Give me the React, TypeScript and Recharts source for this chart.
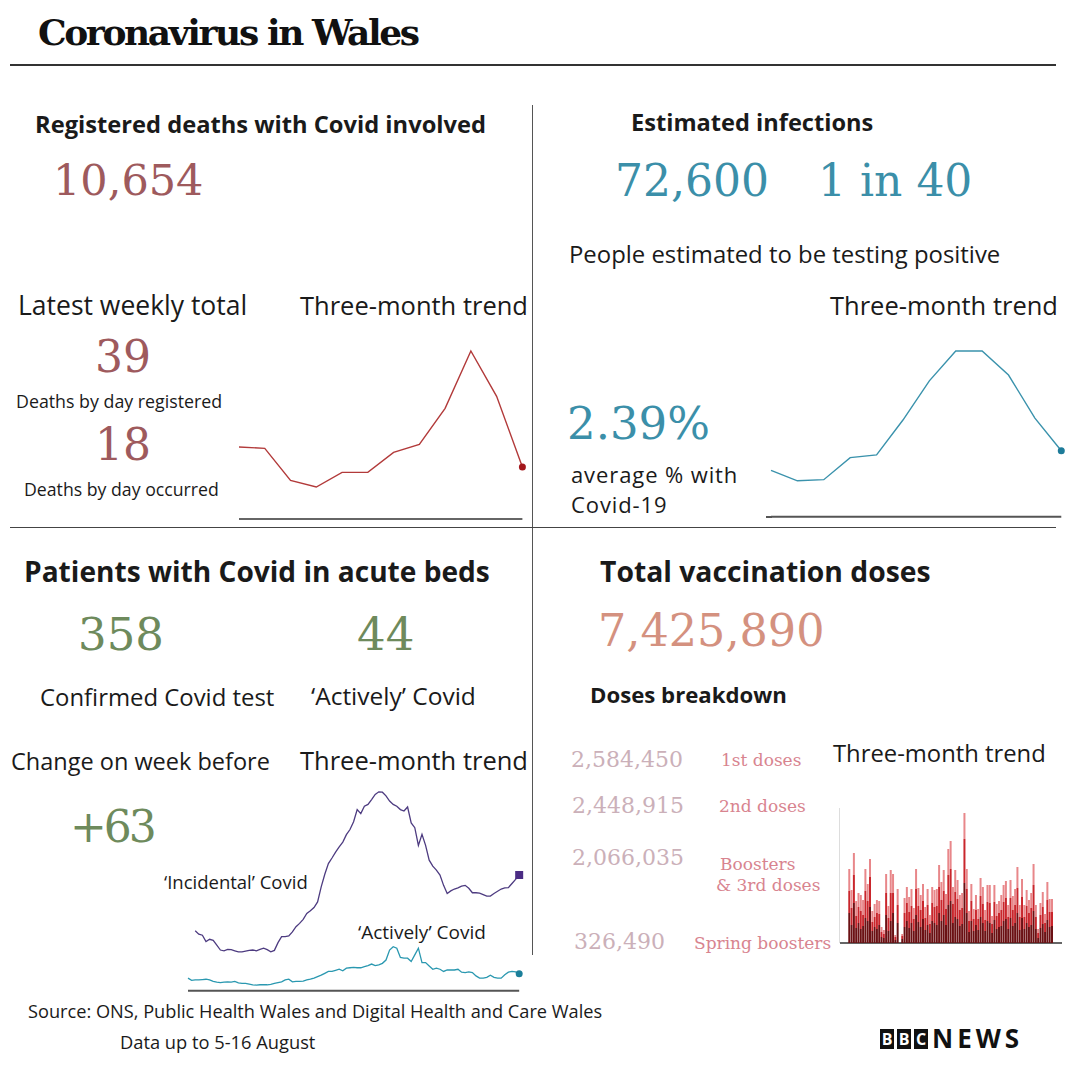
import React from 'react';
import { LineChart, Line, BarChart, Bar, XAxis, YAxis, ReferenceLine } from 'recharts';

// weekly registered deaths, last 12 weeks
const deathWeeks = ['W1', 'W2', 'W3', 'W4', 'W5', 'W6', 'W7', 'W8', 'W9', 'W10', 'W11', 'W12'];
const weeklyDeaths = [54, 53, 29, 24, 35, 35, 50, 56, 83, 126, 92, 39];

// ONS infection survey, % testing positive
const surveyWeeks = ['S1', 'S2', 'S3', 'S4', 'S5', 'S6', 'S7', 'S8', 'S9', 'S10', 'S11', 'S12'];
const positivePct = [1.68, 1.3, 1.34, 2.14, 2.24, 3.5, 4.92, 6.0, 6.0, 5.13, 3.57, 2.39];

// patients in acute beds, daily
const incidentalCovid = [
  null, null, 162, 153, 150, 133, 139, 136, 123, 110, 108, 112, 111, 108, 105, 105, 107, 109, 110, 108,
  112, 115, 111, 105, 109, 130, 146, 146, 148, 159, 173, 182, 193, 209, 216, 225, 240, 281, 315, 344,
  359, 375, 389, 402, 422, 436, 457, 490, 479, 499, 504, 517, 531, 538, 537, 527, 513, 504, 499, 490,
  486, 497, 454, 441, 393, 423, 393, 353, 337, 326, 313, 285, 263, 270, 275, 278, 283, 285, 277, 265,
  265, 264, 260, 256, 256, 263, 269, 275, 278, 279, 290, 301, 313,
];
const activelyCovid = [
  34, 28, 29, 29, 30, 31, 29, 25, 23, 22, 23, 24, 23, 25, 21, 20, 20, 18, 16, 15,
  16, 16, 16, 17, 20, 22, 24, 29, 31, 24, 25, 25, 26, 29, 31, 34, 38, 42, 47, 52,
  52, 55, 58, 54, 61, 62, 63, 62, 62, 65, 68, 72, 68, 70, 74, 83, 110, 119, 115, 90,
  88, 88, 79, 97, 115, 76, 76, 67, 58, 61, 58, 52, 56, 56, 56, 58, 50, 49, 51, 49,
  40, 34, 34, 36, 42, 36, 34, 34, 43, 50, 52, 51, 46,
];

// daily vaccination doses (hundreds), three layers
const doseDark = [
  30, 18, 40, 15, 20, 14, 17, 25, 22, 36, 12, 16, 14, 18, 6, 5, 28, 12, 22, 30,
  3, 20, 0, 4, 16, 22, 15, 20, 12, 28, 21, 16, 24, 13, 18, 10, 22, 20, 18, 30,
  22, 28, 18, 38, 42, 20, 26, 24, 17, 19, 60, 30, 11, 22, 12, 18, 13, 26, 20, 12,
  22, 20, 10, 23, 14, 16, 17, 22, 24, 14, 25, 17, 20, 30, 13, 25, 14, 20, 16, 18,
  32, 14, 5, 15, 19, 11, 23, 16, 17,
];
const doseRed = [
  22, 17, 28, 12, 16, 18, 11, 27, 20, 30, 9, 10, 16, 11, 5, 4, 22, 13, 28, 20,
  3, 18, 0, 3, 14, 18, 16, 17, 12, 26, 16, 17, 18, 12, 20, 9, 18, 16, 19, 26,
  21, 24, 16, 30, 32, 19, 25, 20, 16, 16, 44, 24, 11, 20, 12, 15, 11, 21, 19, 11,
  19, 20, 9, 18, 13, 14, 16, 19, 21, 12, 20, 16, 18, 25, 13, 21, 12, 17, 14, 17,
  26, 12, 5, 13, 17, 9, 20, 15, 14,
];
const dosePink = [
  22, 18, 22, 15, 14, 16, 15, 22, 17, 18, 11, 13, 13, 13, 5, 4, 19, 12, 23, 19,
  2, 16, 0, 2, 15, 16, 15, 17, 11, 20, 18, 15, 17, 11, 16, 9, 16, 17, 17, 22,
  18, 21, 15, 26, 28, 17, 22, 19, 15, 15, 26, 20, 10, 17, 10, 15, 10, 18, 17, 10,
  17, 18, 8, 17, 12, 12, 15, 17, 17, 12, 18, 14, 16, 21, 12, 18, 12, 16, 13, 15,
  21, 12, 4, 12, 15, 9, 18, 13, 13,
];

const deathData = deathWeeks.map((w, i) => ({ w, v: weeklyDeaths[i] }));
const surveyData = surveyWeeks.map((w, i) => ({ w, v: positivePct[i] }));
const patientData = activelyCovid.map((a, i) => ({ d: i, inc: incidentalCovid[i], act: a }));
const doseData = doseDark.map((d, i) => ({ d: i, dark: d, red: doseRed[i], pink: dosePink[i] }));

const SANS = '"Open Sans", "Noto Sans", sans-serif';
const SERIF = '"DejaVu Serif", serif';

const ROSE = '#9e5a5d';
const TEAL = '#3b8fa9';
const GREEN = '#6e8a5c';
const SALMON = '#d4917f';
const PALE = '#cbb0b9';
const PINK = '#d8848f';

type TxtProps = {
  x: number;
  base: number;
  size: number;
  serif?: boolean;
  bold?: boolean;
  color?: string;
  ls?: number;
  children: React.ReactNode;
};

function Txt({ x, base, size, serif, bold, color = '#1a1a1a', ls = 0, children }: TxtProps) {
  const asc = serif ? 0.846 : 0.888;
  return (
    <div
      style={{
        position: 'absolute',
        left: x,
        top: base - asc * size,
        fontSize: size,
        lineHeight: `${size}px`,
        fontFamily: serif ? SERIF : SANS,
        fontWeight: bold ? 700 : 400,
        color,
        letterSpacing: ls,
        whiteSpace: 'nowrap',
      }}
    >
      {children}
    </div>
  );
}

function Rule({ x, y, w, h, c }: { x: number; y: number; w: number; h: number; c: string }) {
  return <div style={{ position: 'absolute', left: x, top: y, width: w, height: h, background: c }} />;
}

const lastDot = (n: number, fill: string, square = false) => (props: any) => {
  const { cx, cy, index } = props;
  if (index !== n - 1 || cx == null || cy == null) return <g key={`d${index}`} />;
  if (square) return <rect key={`d${index}`} x={cx - 4} y={cy - 4} width={8} height={8} fill={fill} />;
  return <circle key={`d${index}`} cx={cx} cy={cy} r={3.5} fill={fill} />;
};

function BbcBox({ x, letter }: { x: number; letter: string }) {
  return (
    <div
      style={{
        position: 'absolute', left: x, top: 1029, width: 14, height: 20, background: '#111',
        color: '#fff', fontFamily: SANS, fontWeight: 700, fontSize: 16, lineHeight: '20px', textAlign: 'center',
      }}
    >
      {letter}
    </div>
  );
}

export default function App() {
  const m = 6;
  return (
    <div style={{ position: 'absolute', left: 0, top: 0, width: 1066, height: 1066, background: '#fff', overflow: 'hidden' }}>
      {/* header */}
      <Txt x={38} base={44} size={36} serif bold color="#111" ls={-2.4}>Coronavirus in Wales</Txt>
      <Rule x={10} y={64} w={1046} h={2} c="#333" />
      <Rule x={532} y={105} w={1} h={850} c="#555" />
      <Rule x={10} y={527} w={1046} h={1} c="#444" />

      {/* deaths */}
      <Txt x={35} base={134} size={23.7} bold>Registered deaths with Covid involved</Txt>
      <Txt x={53} base={195} size={43} serif color={ROSE}>10,654</Txt>
      <Txt x={18} base={316} size={26.5}>Latest weekly total</Txt>
      <Txt x={300} base={316} size={25.5}>Three-month trend</Txt>
      <Txt x={95} base={372} size={44} serif color={ROSE}>39</Txt>
      <Txt x={16} base={409} size={17.8}>Deaths by day registered</Txt>
      <Txt x={95} base={460} size={44} serif color={ROSE}>18</Txt>
      <Txt x={24} base={497} size={17.7}>Deaths by day occurred</Txt>
      <div style={{ position: 'absolute', left: 239.3 - m, top: 351 - m }}>
        <LineChart width={283.4 + 2 * m} height={168 + 2 * m} data={deathData} margin={{ top: m, right: m, bottom: m, left: m }}>
          <XAxis dataKey="w" hide />
          <YAxis hide domain={[0, 126]} />
          <ReferenceLine y={0} stroke="#333" strokeWidth={1.5} />
          <Line dataKey="v" stroke="#b23a3a" strokeWidth={1.4} dot={lastDot(weeklyDeaths.length, '#a3161b')} isAnimationActive={false} />
        </LineChart>
      </div>

      {/* infections */}
      <Txt x={631} base={132} size={23.6} bold>Estimated infections</Txt>
      <Txt x={615} base={196} size={44} serif color={TEAL}>72,600</Txt>
      <Txt x={818} base={196} size={44} serif color={TEAL}>1 in 40</Txt>
      <Txt x={569} base={263} size={23.9}>People estimated to be testing positive</Txt>
      <Txt x={830} base={316} size={25.5}>Three-month trend</Txt>
      <Txt x={567} base={439} size={45} serif color={TEAL}>2.39%</Txt>
      <div
        style={{
          position: 'absolute', left: 571, top: 458.5, fontSize: 22, lineHeight: '30px', letterSpacing: 0.9,
          fontFamily: SANS, color: '#1a1a1a', whiteSpace: 'nowrap',
        }}
      >
        average % with
        <br />
        Covid-19
      </div>
      <Rule x={766} y={515.7} w={6} h={2} c="#555" />
      <div style={{ position: 'absolute', left: 770.7 - m, top: 351 - m }}>
        <LineChart width={290.3 + m + 4} height={165.7 + 2 * m} data={surveyData} margin={{ top: m, right: 4, bottom: m, left: m }}>
          <XAxis dataKey="w" hide />
          <YAxis hide domain={[0, 6]} />
          <ReferenceLine y={0} stroke="#555" strokeWidth={2} />
          <Line dataKey="v" stroke="#3a92ac" strokeWidth={1.4} dot={lastDot(positivePct.length, '#1d7b99')} isAnimationActive={false} />
        </LineChart>
      </div>

      {/* patients */}
      <Txt x={24} base={582} size={28.1} bold>Patients with Covid in acute beds</Txt>
      <Txt x={78} base={650} size={45} serif color={GREEN}>358</Txt>
      <Txt x={357} base={650} size={45} serif color={GREEN}>44</Txt>
      <Txt x={40} base={706} size={23.9}>Confirmed Covid test</Txt>
      <Txt x={311} base={706} size={24.5}>‘Actively’ Covid</Txt>
      <Txt x={11} base={771} size={23.5}>Change on week before</Txt>
      <Txt x={300} base={771} size={25.5}>Three-month trend</Txt>
      <Txt x={70} base={842} size={44} serif color={GREEN} ls={-3}>+63</Txt>
      <Txt x={164} base={889} size={18.5}>‘Incidental’ Covid</Txt>
      <Txt x={358} base={940} size={19}>‘Actively’ Covid</Txt>
      <div style={{ position: 'absolute', left: 188.3 - m, top: 780 - m }}>
        <LineChart width={331.2 + 2 * m} height={210.7 + 2 * m} data={patientData} margin={{ top: m, right: m, bottom: m, left: m }}>
          <XAxis dataKey="d" hide />
          <YAxis hide domain={[0, 570]} />
          <ReferenceLine y={0} stroke="#555" strokeWidth={2} />
          <Line dataKey="inc" stroke="#4d3b80" strokeWidth={1.3} connectNulls={false} dot={lastDot(patientData.length, '#4b2c84', true)} isAnimationActive={false} />
          <Line dataKey="act" stroke="#2a98b0" strokeWidth={1.3} dot={lastDot(patientData.length, '#1b7f9a')} isAnimationActive={false} />
        </LineChart>
      </div>

      {/* vaccinations */}
      <Txt x={600} base={582} size={28.3} bold>Total vaccination doses</Txt>
      <Txt x={598} base={647} size={44.5} serif color={SALMON}>7,425,890</Txt>
      <Txt x={590} base={704} size={22.2} bold>Doses breakdown</Txt>
      <Txt x={571} base={768} size={22} serif color={PALE}>2,584,450</Txt>
      <Txt x={721} base={766} size={17} serif color={PINK}>1st doses</Txt>
      <Txt x={833} base={763} size={23.8}>Three-month trend</Txt>
      <Txt x={572} base={814} size={22} serif color={PALE}>2,448,915</Txt>
      <Txt x={719} base={812} size={17} serif color={PINK}>2nd doses</Txt>
      <Txt x={572} base={866} size={22} serif color={PALE}>2,066,035</Txt>
      <Txt x={720} base={870} size={17} serif color={PINK}>Boosters</Txt>
      <Txt x={716} base={891} size={17} serif color={PINK}>&amp; 3rd doses</Txt>
      <Txt x={574} base={950} size={22} serif color={PALE}>326,490</Txt>
      <Txt x={694} base={949} size={17} serif color={PINK}>Spring boosters</Txt>
      <Rule x={839} y={808} w={1} h={135} c="#ddd" />
      <Rule x={840} y={942} w={222} h={1.5} c="#666" />
      <div style={{ position: 'absolute', left: 848, top: 812 }}>
        <BarChart width={205} height={131} data={doseData} margin={{ top: 0, right: 0, bottom: 0, left: 0 }} barCategoryGap="12%">
          <XAxis dataKey="d" hide />
          <YAxis hide domain={[0, 131]} />
          <Bar dataKey="dark" stackId="a" fill="#6b1114" isAnimationActive={false} />
          <Bar dataKey="red" stackId="a" fill="#c9262c" isAnimationActive={false} />
          <Bar dataKey="pink" stackId="a" fill="#e8878a" isAnimationActive={false} />
        </BarChart>
      </div>

      {/* footer */}
      <Txt x={28} base={1018} size={18.2}>Source: ONS, Public Health Wales and Digital Health and Care Wales</Txt>
      <Txt x={120} base={1049} size={18.3}>Data up to 5-16 August</Txt>
      <BbcBox x={880} letter="B" />
      <BbcBox x={897} letter="B" />
      <BbcBox x={914} letter="C" />
      <Txt x={932} base={1048} size={26} bold ls={4} color="#111">NEWS</Txt>
    </div>
  );
}
